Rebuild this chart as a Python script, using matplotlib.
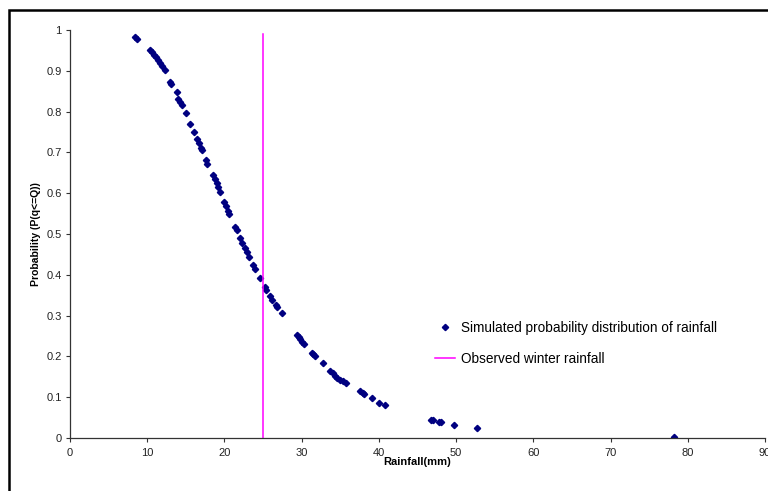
import matplotlib

matplotlib.use("Agg")

import matplotlib.pyplot as plt
from matplotlib.patches import Rectangle

plt.rcParams["font.family"] = ["Liberation Sans", "DejaVu Sans"]

# simulated probability distribution (rainfall in mm, exceedance probability)
rainfall_mm = [
    8.4, 8.7, 10.3, 10.6, 10.9, 11.1, 11.4, 11.6, 11.9, 12.3,
    12.95, 13.1, 13.8, 14.0, 14.25, 14.5, 15.0, 15.5, 16.1,
    16.5, 16.7, 16.9, 17.05, 17.6, 17.8, 18.5, 18.8, 19.0, 19.2, 19.4,
    19.9, 20.2, 20.4, 20.6, 21.4, 21.6, 22.0, 22.3, 22.7, 22.9, 23.2,
    23.7, 24.0, 24.6, 25.2, 25.4, 25.9, 26.2, 26.7, 26.8, 27.4,
    29.4, 29.6, 29.8, 30.1, 30.3, 31.3, 31.5, 31.7, 32.7,
    33.7, 34.0, 34.3, 34.6, 35.0, 35.3, 35.7, 37.6, 37.9, 38.1,
    39.1, 40.0, 40.8, 46.8, 47.0, 47.8, 48.0, 49.7, 52.7, 78.2,
]
probability = [
    0.982, 0.977, 0.951, 0.945, 0.939, 0.933, 0.926, 0.919, 0.911, 0.902,
    0.873, 0.868, 0.847, 0.832, 0.824, 0.816, 0.797, 0.770, 0.749,
    0.733, 0.722, 0.712, 0.706, 0.681, 0.672, 0.645, 0.634, 0.624, 0.614, 0.604,
    0.579, 0.569, 0.557, 0.549, 0.518, 0.510, 0.489, 0.479, 0.465, 0.457, 0.444,
    0.425, 0.414, 0.393, 0.369, 0.362, 0.348, 0.338, 0.326, 0.320, 0.307,
    0.252, 0.247, 0.243, 0.235, 0.230, 0.209, 0.206, 0.202, 0.183,
    0.165, 0.159, 0.153, 0.148, 0.143, 0.139, 0.135, 0.114, 0.111, 0.108,
    0.097, 0.087, 0.081, 0.044, 0.043, 0.039, 0.038, 0.032, 0.025, 0.002,
]

# observed winter rainfall marker line
observed_x = [25, 25]
observed_y = [0, 0.99]

x_ticks = [0, 10, 20, 30, 40, 50, 60, 70, 80, 90]
y_ticks = [0, 0.1, 0.2, 0.3, 0.4, 0.5, 0.6, 0.7, 0.8, 0.9, 1]
y_tick_labels = ["0", "0.1", "0.2", "0.3", "0.4", "0.5", "0.6", "0.7", "0.8", "0.9", "1"]

fig = plt.figure(figsize=(7.68, 4.91), dpi=100)
ax = fig.add_axes([70 / 768, 53 / 491, 695 / 768, 408 / 491])

ax.plot(
    rainfall_mm,
    probability,
    linestyle="none",
    marker="D",
    markersize=3.2,
    color="#000080",
    label="Simulated probability distribution of rainfall",
)
ax.plot(
    observed_x,
    observed_y,
    color="#ff00ff",
    linewidth=1.1,
    label="Observed winter rainfall",
)

ax.set_xlim(0, 90)
ax.set_ylim(0, 1)
ax.set_xticks(x_ticks)
ax.set_yticks(y_ticks)
ax.set_yticklabels(y_tick_labels)
ax.tick_params(labelsize=8, length=3, width=0.8, pad=3,
               color="#333333", labelcolor="#222222")
ax.tick_params(axis="x", pad=4.5)

for side in ("top", "right"):
    ax.spines[side].set_visible(False)
for side in ("left", "bottom"):
    ax.spines[side].set_linewidth(0.9)
    ax.spines[side].set_color("#333333")

ax.set_xlabel("Rainfall(mm)", fontsize=8, fontweight="bold")
ax.set_ylabel("Probability (P(q<=Q))", fontsize=7.5, fontweight="bold")
ax.xaxis.set_label_coords(0.5, -0.047)
ax.yaxis.set_label_coords(-0.042, 0.5)

ax.legend(
    loc="upper left",
    bbox_to_anchor=(0.508, 0.317),
    frameon=False,
    fontsize=9.8,
    handlelength=1.45,
    handletextpad=0.42,
    labelspacing=1.25,
)

# outer frame of the original chart area
fig.add_artist(
    Rectangle(
        (9 / 768, -0.2),
        2.0,
        1.2 - 9.5 / 491,
        transform=fig.transFigure,
        fill=False,
        linewidth=1.8,
        edgecolor="black",
    )
)

fig.savefig("out.png", dpi=100)
